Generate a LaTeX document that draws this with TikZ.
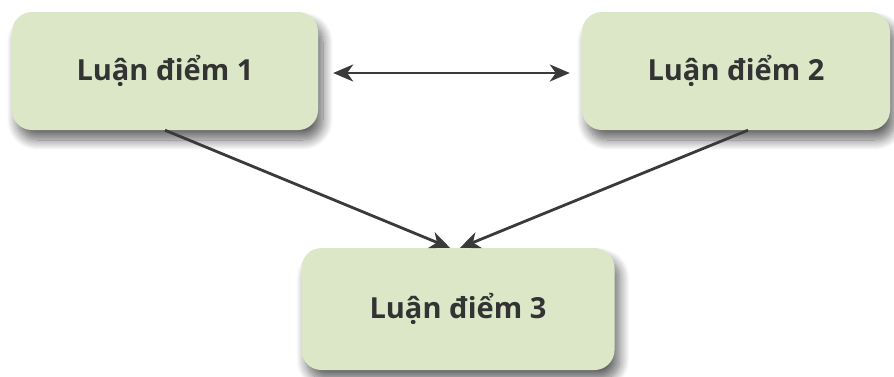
\documentclass[tikz,border=0pt]{standalone}
\usepackage{fontspec}
\setmainfont{Open Sans}
\usetikzlibrary{arrows.meta,shadows.blur}
\definecolor{boxfill}{HTML}{DCE7C7}
\definecolor{txt}{HTML}{333333}
\definecolor{arr}{HTML}{3A3A3A}
\tikzset{
  idea/.style={rectangle, rounded corners=20pt, fill=boxfill,
    minimum height=118pt, inner sep=0pt,
    font=\fontsize{29}{34}\selectfont\bfseries, text=txt,
    blur shadow={shadow xshift=5pt, shadow yshift=-10pt, shadow blur steps=14,
      shadow blur radius=10pt, shadow opacity=60}},
  tip/.style={Stealth[length=20pt,width=17pt,inset=6pt]},
  link/.style={draw=arr, line width=2.8pt, -{Stealth[length=20pt,width=17pt,inset=6pt]}},
  biline/.style={draw=arr, line width=2.8pt, {Stealth[length=20pt,width=17pt,inset=6pt]}-{Stealth[length=20pt,width=17pt,inset=6pt]}}
}
\begin{document}
\begin{tikzpicture}[x=1pt,y=-1pt]
\useasboundingbox (0,0) rectangle (894,376);
\node[idea, minimum width=306pt] (a) at (165,71) {Luận điểm 1};
\node[idea, minimum width=308pt] (b) at (736,71) {Luận điểm 2};
\node[idea, minimum width=313pt, minimum height=122pt] (c) at (458,309) {Luận điểm 3};
\draw[biline, shorten <=15pt, shorten >=12pt] ([yshift=-2pt]a.east) -- ([yshift=-2pt]b.west);
\draw[link] (a.south) -- ([xshift=-8pt]c.north);
\draw[link] ([xshift=12pt]b.south) -- ([xshift=2pt]c.north);
\end{tikzpicture}
\end{document}
